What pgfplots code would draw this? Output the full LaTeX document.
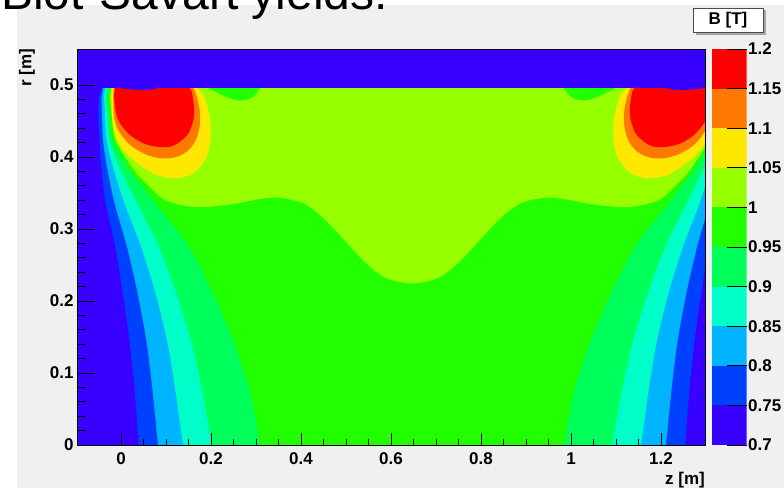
\documentclass[border=0pt]{standalone}
\usepackage{fontspec}
\setmainfont{Liberation Sans}
\usepackage{pgfplots}
\pgfplotsset{compat=1.18}
\definecolor{cA}{RGB}{55,0,255}
\definecolor{cB}{RGB}{0,64,255}
\definecolor{cC}{RGB}{0,180,255}
\definecolor{cD}{RGB}{0,255,200}
\definecolor{cE}{RGB}{0,255,90}
\definecolor{cF}{RGB}{34,255,0}
\definecolor{cG}{RGB}{150,255,0}
\definecolor{cH}{RGB}{255,232,0}
\definecolor{cI}{RGB}{255,120,0}
\definecolor{cJ}{RGB}{255,0,0}
\definecolor{canvas}{RGB}{240,240,240}
\newcommand{\lbl}{\bfseries\fontsize{17}{17}\selectfont}
\begin{document}
\begin{tikzpicture}
\path[use as bounding box] (0pt,0pt) rectangle (784pt,488pt);
\begin{scope}
\clip (0pt,0pt) rectangle (784pt,488pt);
\fill[white] (0pt,0pt) rectangle (784pt,488pt);
\fill[canvas] (17pt,0pt) rectangle (784pt,483pt);
\node[anchor=base west, inner sep=0pt, font=\fontsize{48}{48}\selectfont] at (1pt,478pt) {Biot-Savart yields:};
\end{scope}
\begin{axis}[
  at={(77pt,43pt)}, anchor=south west, scale only axis,
  width=628pt, height=396pt,
  xmin=-0.0978, xmax=1.2978, ymin=0, ymax=0.55,
  axis background/.style={fill=cA},
  axis on top,
  xtick={0,0.2,0.4,0.6,0.8,1,1.2}, xticklabels={0,0.2,0.4,0.6,0.8,1,1.2},
  ytick={0,0.1,0.2,0.3,0.4,0.5}, yticklabels={0,0.1,0.2,0.3,0.4,0.5},
  minor x tick num=3, minor y tick num=4,
  tick align=inside, xtick pos=left, ytick pos=left,
  major tick length=12pt, minor tick length=6pt,
  ytick style={/pgfplots/major tick length=18pt, /pgfplots/minor tick length=9pt},
  tick style={black, line width=0.8pt},
  axis line style={black, line width=0.8pt},
  ticklabel style={font=\lbl},
  xticklabel style={yshift=-4.5pt},
  every axis plot/.append style={smooth, tension=0.5},
]
% B > 0.75
\addplot[fill=cB, draw=none] coordinates {(0.0393,0) (0.0311,0.0694) (0.0200,0.1389) (0.0044,0.2083) (-0.0133,0.2778) (-0.0333,0.3333) (-0.0433,0.3819) (-0.0478,0.4236) (-0.0504,0.4611) (-0.0489,0.4833) (-0.0444,0.4958) (-0.0444,0.53) (1.3377,0.53) (1.3377,0.4958) (1.3422,0.4833) (1.3437,0.4611) (1.3411,0.4236) (1.3366,0.3819) (1.3266,0.3333) (1.3066,0.2778) (1.2889,0.2083) (1.2733,0.1389) (1.2622,0.0694) (1.2540,0)} -- cycle;
% B > 0.80
\addplot[fill=cC, draw=none] coordinates {(0.0822,0) (0.0711,0.0694) (0.0578,0.1389) (0.0378,0.2083) (0.0122,0.2778) (-0.0133,0.3333) (-0.0300,0.3819) (-0.0400,0.4236) (-0.0422,0.4611) (-0.0433,0.4833) (-0.0400,0.4958) (-0.0400,0.53) (1.3333,0.53) (1.3333,0.4958) (1.3366,0.4833) (1.3355,0.4611) (1.3333,0.4236) (1.3233,0.3819) (1.3066,0.3333) (1.2811,0.2778) (1.2555,0.2083) (1.2355,0.1389) (1.2222,0.0694) (1.2111,0)} -- cycle;
% B > 0.85
\addplot[fill=cD, draw=none] coordinates {(0.1378,0) (0.1222,0.0694) (0.1044,0.1389) (0.0778,0.2083) (0.0433,0.2778) (0.0089,0.3333) (-0.0156,0.3819) (-0.0322,0.4236) (-0.0356,0.4611) (-0.0378,0.4833) (-0.0356,0.4958) (-0.0356,0.53) (1.3289,0.53) (1.3289,0.4958) (1.3311,0.4833) (1.3289,0.4611) (1.3255,0.4236) (1.3089,0.3819) (1.2844,0.3333) (1.2500,0.2778) (1.2155,0.2083) (1.1889,0.1389) (1.1711,0.0694) (1.1555,0)} -- cycle;
% B > 0.90
\addplot[fill=cE, draw=none] coordinates {(0.2022,0) (0.1822,0.0694) (0.1578,0.1389) (0.1244,0.2083) (0.0822,0.2778) (0.0378,0.3333) (0.0000,0.3819) (-0.0256,0.4236) (-0.0300,0.4611) (-0.0333,0.4833) (-0.0311,0.4958) (-0.0311,0.53) (1.3244,0.53) (1.3244,0.4958) (1.3266,0.4833) (1.3233,0.4611) (1.3189,0.4236) (1.2933,0.3819) (1.2555,0.3333) (1.2111,0.2778) (1.1689,0.2083) (1.1355,0.1389) (1.1111,0.0694) (1.0911,0)} -- cycle;
% B > 0.95
\addplot[fill=cF, draw=none] coordinates {(0.3089,0) (0.2889,0.0694) (0.2533,0.1389) (0.2067,0.2083) (0.1489,0.2778) (0.0800,0.3333) (0.0200,0.3819) (-0.0178,0.4236) (-0.0256,0.4611) (-0.0289,0.4833) (-0.0267,0.4958) (-0.0267,0.53) (1.3200,0.53) (1.3200,0.4958) (1.3222,0.4833) (1.3189,0.4611) (1.3111,0.4236) (1.2733,0.3819) (1.2133,0.3333) (1.1444,0.2778) (1.0866,0.2083) (1.0400,0.1389) (1.0044,0.0694) (0.9844,0)} -- cycle;
% B > 1.00
\addplot[fill=cG, draw=none] coordinates {(-0.0222,0.53) (-0.0222,0.4958) (-0.0244,0.4833) (-0.0211,0.4611) (-0.0122,0.4236) (0.0289,0.3819) (0.0600,0.3611) (0.0978,0.3403) (0.1616,0.3306) (0.2356,0.3333) (0.3089,0.3417) (0.3533,0.3435) (0.4051,0.3357) (0.4422,0.3194) (0.4793,0.2963) (0.5162,0.2708) (0.5533,0.2476) (0.5904,0.2315) (0.6467,0.2243) (0.7029,0.2315) (0.7400,0.2476) (0.7771,0.2708) (0.8140,0.2963) (0.8511,0.3194) (0.8882,0.3357) (0.9400,0.3435) (0.9844,0.3417) (1.0577,0.3333) (1.1317,0.3306) (1.1955,0.3403) (1.2333,0.3611) (1.2644,0.3819) (1.3055,0.4236) (1.3144,0.4611) (1.3177,0.4833) (1.3155,0.4958) (1.3155,0.53)} -- cycle;
% B < 1.00 pockets under the coil
\addplot[fill=cF, draw=none] coordinates {(0.1933,0.4958) (0.2200,0.4875) (0.2467,0.4806) (0.2689,0.4785) (0.2889,0.4819) (0.3022,0.4889) (0.3089,0.4958)} -- cycle;
\addplot[fill=cF, draw=none] coordinates {(0.9844,0.4958) (0.9911,0.4889) (1.0044,0.4819) (1.0244,0.4785) (1.0466,0.4806) (1.0733,0.4875) (1.1000,0.4958)} -- cycle;
% B > 1.05
\addplot[fill=cH, draw=none] coordinates {(-0.0189,0.4958) (-0.0207,0.4838) (-0.0200,0.4560) (-0.0111,0.4282) (0.0089,0.4074) (0.0422,0.3889) (0.0793,0.3750) (0.1162,0.3704) (0.1533,0.3750) (0.1793,0.3889) (0.1940,0.4074) (0.1993,0.4329) (0.1956,0.4607) (0.1829,0.4861) (0.1689,0.4958)} -- cycle;
\addplot[fill=cH, draw=none] coordinates {(1.3122,0.4958) (1.3140,0.4838) (1.3133,0.4560) (1.3044,0.4282) (1.2844,0.4074) (1.2511,0.3889) (1.2140,0.3750) (1.1771,0.3704) (1.1400,0.3750) (1.1140,0.3889) (1.0993,0.4074) (1.0940,0.4329) (1.0977,0.4607) (1.1104,0.4861) (1.1244,0.4958)} -- cycle;
% B > 1.10
\addplot[fill=cI, draw=none] coordinates {(-0.0156,0.4958) (-0.0171,0.4838) (-0.0156,0.4560) (-0.0060,0.4375) (0.0162,0.4190) (0.0496,0.4051) (0.0867,0.3982) (0.1200,0.3996) (0.1460,0.4074) (0.1644,0.4213) (0.1740,0.4399) (0.1756,0.4607) (0.1696,0.4815) (0.1611,0.4958)} -- cycle;
\addplot[fill=cI, draw=none] coordinates {(1.3089,0.4958) (1.3104,0.4838) (1.3089,0.4560) (1.2993,0.4375) (1.2771,0.4190) (1.2437,0.4051) (1.2066,0.3982) (1.1733,0.3996) (1.1473,0.4074) (1.1289,0.4213) (1.1193,0.4399) (1.1177,0.4607) (1.1237,0.4815) (1.1322,0.4958)} -- cycle;
% B > 1.15
\addplot[fill=cJ, draw=none] coordinates {(-0.0133,0.4958) (-0.0156,0.4838) (-0.0111,0.4607) (-0.0022,0.4468) (0.0200,0.4306) (0.0496,0.4190) (0.0793,0.4143) (0.1089,0.4143) (0.1311,0.4213) (0.1496,0.4329) (0.1607,0.4514) (0.1622,0.4699) (0.1571,0.4907) (0.1511,0.4958)} -- cycle;
\addplot[fill=cJ, draw=none] coordinates {(1.3066,0.4958) (1.3089,0.4838) (1.3044,0.4607) (1.2955,0.4468) (1.2733,0.4306) (1.2437,0.4190) (1.2140,0.4143) (1.1844,0.4143) (1.1622,0.4213) (1.1437,0.4329) (1.1326,0.4514) (1.1311,0.4699) (1.1362,0.4907) (1.1422,0.4958)} -- cycle;
% coil region (field not evaluated) and small notches at the coil ends
\addplot[fill=cA, draw=none, sharp plot] coordinates {(-0.2,0.4958) (1.4,0.4958) (1.4,0.6) (-0.2,0.6)} -- cycle;
\addplot[fill=cA, draw=none] coordinates {(-0.0022,0.4958) (0.0156,0.4944) (0.0422,0.4931) (0.0689,0.4938) (0.0822,0.4958)} -- cycle;
\addplot[fill=cA, draw=none] coordinates {(1.2111,0.4958) (1.2244,0.4938) (1.2511,0.4931) (1.2777,0.4944) (1.2955,0.4958)} -- cycle;
\end{axis}
% colour scale
\begin{axis}[
  at={(711.7pt,43pt)}, anchor=south west, scale only axis,
  width=35pt, height=396pt,
  xmin=0, xmax=1, ymin=0.7, ymax=1.2,
  hide x axis, axis y line*=right, y axis line style={draw=none},
  axis on top,
  ytick={0.7,0.75,0.8,0.85,0.9,0.95,1,1.05,1.1,1.15,1.2},
  yticklabels={0.7,0.75,0.8,0.85,0.9,0.95,1,1.05,1.1,1.15,1.2},
  tick align=inside, major tick length=20pt,
  ytick style={black, line width=0.8pt},
  yticklabel style={font=\lbl, xshift=-2pt},
]
\addplot[fill=cA, draw=none] coordinates {(0,0.70) (1,0.70) (1,0.75) (0,0.75)} -- cycle;
\addplot[fill=cB, draw=none] coordinates {(0,0.75) (1,0.75) (1,0.80) (0,0.80)} -- cycle;
\addplot[fill=cC, draw=none] coordinates {(0,0.80) (1,0.80) (1,0.85) (0,0.85)} -- cycle;
\addplot[fill=cD, draw=none] coordinates {(0,0.85) (1,0.85) (1,0.90) (0,0.90)} -- cycle;
\addplot[fill=cE, draw=none] coordinates {(0,0.90) (1,0.90) (1,0.95) (0,0.95)} -- cycle;
\addplot[fill=cF, draw=none] coordinates {(0,0.95) (1,0.95) (1,1.00) (0,1.00)} -- cycle;
\addplot[fill=cG, draw=none] coordinates {(0,1.00) (1,1.00) (1,1.05) (0,1.05)} -- cycle;
\addplot[fill=cH, draw=none] coordinates {(0,1.05) (1,1.05) (1,1.10) (0,1.10)} -- cycle;
\addplot[fill=cI, draw=none] coordinates {(0,1.10) (1,1.10) (1,1.15) (0,1.15)} -- cycle;
\addplot[fill=cJ, draw=none] coordinates {(0,1.15) (1,1.15) (1,1.20) (0,1.20)} -- cycle;
\end{axis}
% axis titles
\node[rotate=90, anchor=east, inner sep=0pt, font=\lbl] at (27pt,439pt) {r [m]};
\node[anchor=base east, inner sep=0pt, font=\lbl] at (705pt,4pt) {z [m]};
% colour-scale title box
\fill[gray!70] (695.5pt,453pt) rectangle (765.5pt,478pt);
\draw[fill=white, draw=gray!60!black, line width=0.8pt] (693pt,455.5pt) rectangle (763pt,480pt);
\node[font=\lbl] at (728pt,467.5pt) {B [T]};
\end{tikzpicture}
\end{document}
